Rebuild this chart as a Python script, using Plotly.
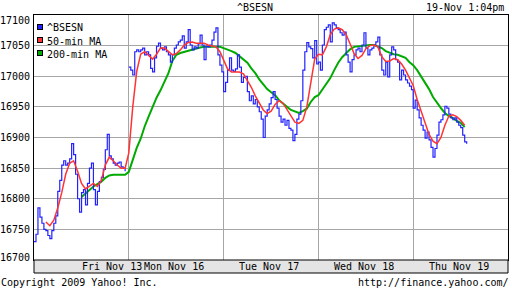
import plotly.graph_objects as go

# ---------------- data ----------------
day_labels = ["Fri Nov 13", "Mon Nov 16", "Tue Nov 17", "Wed Nov 18", "Thu Nov 19"]
label_pos = [0.82, 1.48, 2.48, 3.48, 4.48]      # where each day label sits (session units)
SESSION_MIN = 335        # minutes per trading session
BSE_STEP = 7             # minutes between index samples
MA_STEP = 14             # minutes between moving-average samples

y_ticks = [16700, 16750, 16800, 16850, 16900, 16950, 17000, 17050, 17100]

bse_fri = [16730, 16742, 16785, 16770, 16760, 16750, 16748, 16740, 16735, 16748, 16760, 16772,
           16812, 16830, 16855, 16862, 16855, 16858, 16865, 16890, 16872, 16840, 16800, 16778,
           16810, 16815, 16790, 16825, 16850, 16858, 16815, 16790, 16812, 16828, 16835, 16848,
           16880, 16905, 16870, 16865, 16858, 16855, 16858, 16860, 16852, 16850, 16845]
bse_mon = [17015, 17010, 17002, 17040, 17043, 17040, 17043, 17046, 17035, 17040, 17035, 17013,
           17007, 17030, 17049, 17054, 17046, 17043, 17048, 17040, 17035, 17023, 17035, 17046,
           17051, 17056, 17059, 17066, 17046, 17056, 17076, 17051, 17043, 17048, 17046, 17053,
           17067, 17051, 17027, 17049, 17048, 17051, 17059, 17072, 17079, 17035, 17018, 17007]
bse_tue = [16975, 16990, 17010, 17030, 17010, 17008, 17012, 17035, 17015, 16990, 16998, 17000,
           16975, 16960, 16968, 16955, 16962, 16950, 16942, 16930, 16900, 16935, 16945, 16955,
           16965, 16975, 16962, 16948, 16935, 16925, 16930, 16920, 16928, 16915, 16912, 16895,
           16905, 16930, 16938, 16960, 17010, 17040, 17055, 17048, 17045, 17030, 17058, 17020]
bse_wed = [17023, 17010, 17051, 17076, 17080, 17084, 17056, 17087, 17084, 17079, 17076, 17071,
           17067, 17072, 17035, 17023, 17007, 17027, 17035, 17043, 17046, 17040, 17051, 17071,
           17046, 17035, 17043, 17046, 17051, 17056, 17064, 17035, 17010, 17002, 17023, 16999,
           17035, 17048, 17043, 17027, 17023, 16994, 17010, 17002, 16994, 16989, 16984, 16978]
bse_thu = [16948, 16961, 16945, 16932, 16920, 16912, 16899, 16909, 16896, 16884, 16868, 16882,
           16904, 16925, 16929, 16937, 16951, 16948, 16938, 16932, 16929, 16932, 16925, 16920,
           16916, 16904, 16893, 16890]

ma50_fri = [None, None, None, 16762, 16756, 16765, 16785, 16810, 16840, 16858, 16862, 16845,
            16825, 16816, 16820, 16825, 16820, 16830, 16855, 16868, 16862, 16855, 16850, 16850]
ma50_mon = [16875, 16950, 17008, 17036, 17040, 17034, 17028, 17036, 17046, 17046, 17040, 17035,
            17037, 17043, 17051, 17055, 17056, 17054, 17054, 17054, 17051, 17050, 17048, 17040]
ma50_tue = [17027, 17012, 17007, 17007, 17007, 17004, 16994, 16982, 16968, 16956, 16945, 16939,
            16943, 16954, 16960, 16956, 16946, 16935, 16925, 16923, 16928, 16950, 16990, 17028]
ma50_wed = [17036, 17035, 17048, 17068, 17077, 17079, 17076, 17068, 17053, 17037, 17029, 17034,
            17045, 17050, 17051, 17048, 17032, 17024, 17025, 17029, 17027, 17020, 17010, 16996]
ma50_thu = [16985, 16962, 16942, 16925, 16905, 16894, 16890, 16900, 16920, 16935, 16937, 16934,
            16928, 16920]

ma200_fri = [None] * 12 + [16803, 16809, 16815, 16820, 16824, 16828, 16834, 16838, 16839, 16839,
                           16838, 16839]
ma200_mon = [16844, 16863, 16883, 16898, 16918, 16934, 16950, 16965, 16977, 16990, 17005, 17025,
             17035, 17038, 17040, 17041, 17043, 17045, 17047, 17048, 17048, 17048, 17049, 17048]
ma200_tue = [17046, 17044, 17041, 17038, 17033, 17028, 17022, 17013, 17005, 16995, 16986, 16979,
             16974, 16969, 16961, 16955, 16950, 16945, 16942, 16940, 16943, 16947, 16958, 16966]
ma200_wed = [16969, 16978, 16987, 16997, 17010, 17022, 17031, 17038, 17044, 17048, 17049, 17049,
             17051, 17051, 17051, 17049, 17046, 17041, 17038, 17036, 17035, 17033, 17030, 17023]
ma200_thu = [17018, 17010, 17000, 16989, 16979, 16966, 16956, 16948, 16940, 16935, 16932, 16927,
             16924, 16917]

bse_days = [bse_fri, bse_mon, bse_tue, bse_wed, bse_thu]
ma50_days = [ma50_fri, ma50_mon, ma50_tue, ma50_wed, ma50_thu]
ma200_days = [ma200_fri, ma200_mon, ma200_tue, ma200_wed, ma200_thu]
gap_after = [0]   # no trading between Fri close and Mon open line join


def build(days, step, gaps=()):
    xs, ys = [], []
    for d, vals in enumerate(days):
        for i, v in enumerate(vals):
            xs.append(d + i * step / SESSION_MIN)
            ys.append(v)
        if d in gaps:
            xs.append(None)
            ys.append(None)
    return xs, ys


# ---------------- layout helpers (pixel -> paper) ----------------
W, H = 512, 288
L, R, T, B = 34, 4, 15, 28
PW, PH = W - L - R, H - T - B


def px(x):
    return (x - L) / PW


def py(y):
    return (H - B - y) / PH


FONT = "DejaVu Sans Mono"
BLUE, RED, GREEN = "#2222ff", "#ff3333", "#00aa00"
GRID = "#a6a6a6"

fig = go.Figure()
bx, by = build(bse_days, BSE_STEP, gap_after)
rx, ry = build(ma50_days, MA_STEP)
gx, gy = build(ma200_days, MA_STEP)

fig.add_trace(go.Scatter(x=gx, y=gy, mode="lines", line=dict(color=GREEN, width=2),
                         name="200-min MA", hoverinfo="skip"))
fig.add_trace(go.Scatter(x=bx, y=by, mode="lines", line=dict(color=BLUE, width=1.2, shape="hv"),
                         name="^BSESN", hoverinfo="skip"))
fig.add_trace(go.Scatter(x=rx, y=ry, mode="lines", line=dict(color=RED, width=1.5),
                         name="50-min MA", hoverinfo="skip"))

annotations = []
# y-axis labels
for v in y_ticks:
    shift = -5 if v == y_ticks[-1] else (3 if v == y_ticks[0] else 0)
    annotations.append(dict(x=0, xref="paper", y=v, yref="y", text=str(v), showarrow=False,
                            xanchor="right", yanchor="middle", xshift=-2, yshift=shift,
                            font=dict(family=FONT, size=10, color="black")))
# day labels in axis strip
for p, lab in zip(label_pos, day_labels):
    annotations.append(dict(x=p, xref="x", y=py(266.5), yref="paper", text=lab, showarrow=False,
                            xanchor="center", yanchor="middle",
                            font=dict(family=FONT, size=10, color="black")))
# title, date, footer
annotations += [
    dict(x=px(255), y=py(7.5), xref="paper", yref="paper", text="^BSESN", showarrow=False,
         xanchor="center", yanchor="middle", font=dict(family=FONT, size=10, color="black")),
    dict(x=px(506), y=py(7.5), xref="paper", yref="paper", text="19-Nov 1:04pm", showarrow=False,
         xanchor="right", yanchor="middle", font=dict(family=FONT, size=10, color="black")),
    dict(x=px(-1), y=py(282.5), xref="paper", yref="paper", text="Copyright 2009 Yahoo! Inc.",
         showarrow=False, xanchor="left", yanchor="middle",
         font=dict(family=FONT, size=10, color="black")),
    dict(x=px(511), y=py(282.5), xref="paper", yref="paper", text="http://finance.yahoo.com/",
         showarrow=False, xanchor="right", yanchor="middle",
         font=dict(family=FONT, size=10, color="black")),
]
# legend (squares + names)
for (name, col), cy in zip([("^BSESN", BLUE), ("50-min MA", RED), ("200-min MA", GREEN)],
                           [27, 40, 53]):
    annotations.append(dict(x=px(37), y=py(cy), xref="paper", yref="paper", text=" ",
                            showarrow=False, xanchor="left", yanchor="middle", width=4, height=4,
                            bgcolor=col, bordercolor="black", borderwidth=1, borderpad=0,
                            font=dict(size=2)))
    annotations.append(dict(x=px(45), y=py(cy + 1), xref="paper", yref="paper", text=name,
                            showarrow=False, xanchor="left", yanchor="middle",
                            font=dict(family=FONT, size=10, color="black")))

shapes = [
    # axis label strip
    dict(type="rect", xref="paper", yref="paper", x0=0, x1=1, y0=py(273), y1=0,
         fillcolor="#e4e4e4", line=dict(color="black", width=1), layer="above"),
    # legend background
    dict(type="rect", xref="paper", yref="paper", x0=px(36), x1=px(108), y0=py(60), y1=py(19),
         fillcolor="white", line=dict(width=0), layer="between"),
]

fig.update_layout(
    width=W, height=H, margin=dict(l=L, r=R, t=T, b=B),
    paper_bgcolor="white", plot_bgcolor="white", showlegend=False,
    annotations=annotations, shapes=shapes,
    xaxis=dict(range=[0, 5], tickmode="array", tickvals=[1, 2, 3, 4], showticklabels=False,
               showgrid=True, gridcolor=GRID, gridwidth=1, zeroline=False,
               showline=True, linecolor="black", linewidth=1, mirror=True, ticks=""),
    yaxis=dict(range=[16700, 17100], tickmode="array", tickvals=y_ticks, showticklabels=False,
               showgrid=True, gridcolor=GRID, gridwidth=1, zeroline=False,
               showline=True, linecolor="black", linewidth=1, mirror=True, ticks=""),
)

fig.write_html("out.html")
